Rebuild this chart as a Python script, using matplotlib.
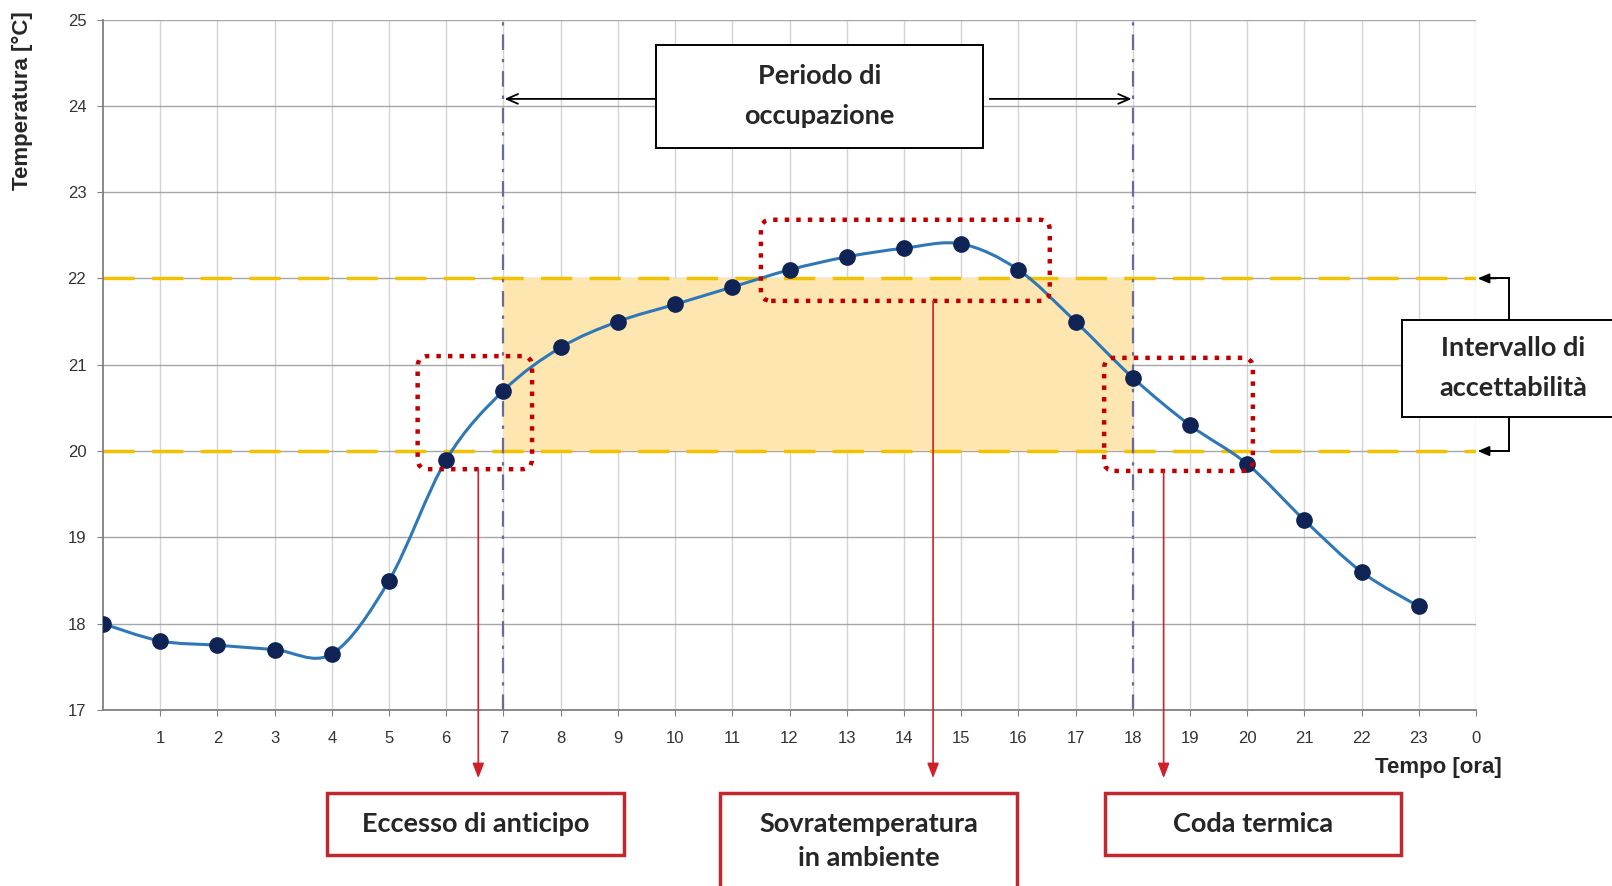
import numpy as np
import matplotlib
matplotlib.use('Agg')
import matplotlib.pyplot as plt
from matplotlib.path import Path
from matplotlib.patches import PathPatch, Rectangle, FancyBboxPatch

# Data
hours = [0, 1, 2, 3, 4, 5, 6, 7, 8, 9, 10, 11, 12, 13, 14, 15, 16, 17, 18, 19, 20, 21, 22, 23]
temps = [18.0, 17.8, 17.75, 17.7, 17.65, 18.5, 19.9, 20.7, 21.2, 21.5, 21.7, 21.9,
         22.1, 22.25, 22.35, 22.4, 22.1, 21.5, 20.85, 20.3, 19.85, 19.2, 18.6, 18.2]
comfort_low, comfort_high = 20, 22
occ_start, occ_end = 7, 18
x_ticks = list(range(1, 25))
x_tick_labels = [str(h) for h in range(1, 24)] + ['0']
y_ticks = list(range(17, 26))

W, H = 1612, 886
plt.rcParams['font.family'] = ['Liberation Sans', 'DejaVu Sans']
fig = plt.figure(figsize=(W / 100, H / 100), dpi=100)

def fx(px):
    return px / W

def fy(py):
    return 1 - py / H

left, right, top, bottom = 103, 1476, 19.5, 710
ax = fig.add_axes([fx(left), fy(bottom), fx(right - left), (bottom - top) / H])
ax.set_xlim(0, 24)
ax.set_ylim(17, 25)

# grid
for x in range(1, 25):
    ax.axvline(x, color='#d4d4d4', lw=1, zorder=0)
for y in range(18, 26):
    ax.axhline(y, color='#a6a6a6', lw=1, zorder=0)
for s in ['top', 'right']:
    ax.spines[s].set_visible(False)
for s in ['left', 'bottom']:
    ax.spines[s].set_color('#808080')
    ax.spines[s].set_linewidth(1.3)

ax.set_xticks(x_ticks)
ax.set_xticklabels(x_tick_labels)
ax.set_yticks(y_ticks)
ax.tick_params(axis='both', direction='out', length=4, color='#808080',
               labelsize=12, labelcolor='#333333')
ax.tick_params(axis='x', pad=11)
ax.tick_params(axis='y', pad=8)

# comfort band
ax.add_patch(Rectangle((occ_start, comfort_low), occ_end - occ_start, comfort_high - comfort_low,
                       facecolor='#fde6b0', edgecolor='none', zorder=1))
for yv in [comfort_low, comfort_high]:
    ax.plot([0, 24], [yv, yv], color='#f2c200', lw=2.5, dashes=(9, 5), zorder=2)

# occupancy limits
for xv in [occ_start, occ_end]:
    ax.plot([xv, xv], [17, 25], color='#6a6a9a', lw=1.6, dashes=(7, 4, 1.5, 4), zorder=2)

# smoothed line (Bezier segments through the points, like Excel smoothing)
pts = np.column_stack([hours, temps])
ext = np.vstack([pts[0], pts, pts[-1]])
verts = [tuple(pts[0])]
codes = [Path.MOVETO]
for i in range(1, len(ext) - 2):
    p0, p1, p2, p3 = ext[i - 1], ext[i], ext[i + 1], ext[i + 2]
    c1 = p1 + (p2 - p0) / 6
    c2 = p2 - (p3 - p1) / 6
    verts += [tuple(c1), tuple(c2), tuple(p2)]
    codes += [Path.CURVE4] * 3
ax.add_patch(PathPatch(Path(verts, codes), facecolor='none', edgecolor='#2f78b8', lw=2.2, zorder=3))
ax.plot(hours, temps, 'o', color='#0f2355', markersize=11, zorder=4)

# red dotted highlight boxes
red_boxes = [(5.5, 19.79, 2.0, 1.31), (11.5, 21.74, 5.05, 0.94), (17.5, 19.77, 2.6, 1.31)]
for (x0, y0, w, h) in red_boxes:
    ax.add_patch(FancyBboxPatch((x0, y0), w, h, boxstyle='round,pad=0,rounding_size=0.18',
                                mutation_aspect=0.66, facecolor='none', edgecolor='#c00000',
                                lw=3.2, linestyle=(0, (1, 1.6)), zorder=5, clip_on=False))

# red arrows down to the labels
arrow_x = [6.56, 14.51, 18.54]
arrow_from = [19.79, 21.74, 19.77]
for xa, ya in zip(arrow_x, arrow_from):
    ax.annotate('', xy=(xa, 16.21), xytext=(xa, ya), annotation_clip=False,
                arrowprops=dict(arrowstyle='-|>,head_length=0.9,head_width=0.35',
                                color='#d0202a', lw=1.2, shrinkA=0, shrinkB=0), zorder=5)

# occupancy arrows
ax.annotate('', xy=(occ_start + 0.02, 24.08), xytext=(9.7, 24.08),
            arrowprops=dict(arrowstyle='->,head_length=0.8,head_width=0.35', color='black',
                            lw=1.3, shrinkA=0, shrinkB=0))
ax.annotate('', xy=(occ_end - 0.02, 24.08), xytext=(15.5, 24.08),
            arrowprops=dict(arrowstyle='->,head_length=0.8,head_width=0.35', color='black',
                            lw=1.3, shrinkA=0, shrinkB=0))

box_font = ['Lato', 'DejaVu Sans']

def fig_box(x0, y0, x1, y1, text, edge, lw, fs, ls=1.45):
    fig.patches.append(Rectangle((fx(x0), fy(y1)), fx(x1 - x0), (y1 - y0) / H,
                                 transform=fig.transFigure, facecolor='white',
                                 edgecolor=edge, lw=lw, zorder=10, clip_on=False))
    fig.text(fx((x0 + x1) / 2), fy((y0 + y1) / 2), text, ha='center', va='center',
             fontsize=fs, family=box_font, fontweight='bold', color='#262626',
             linespacing=ls, zorder=11)

fig_box(656, 45, 983, 148, 'Periodo di\noccupazione', 'black', 1.4, 19.5, 1.8)
fig_box(327, 793, 624, 855, 'Eccesso di anticipo', '#c1272d', 2.5, 19.5)
fig_box(720, 793, 1017, 890, 'Sovratemperatura\nin ambiente', '#c1272d', 2.5, 19.5, 1.5)
fig_box(1105, 793, 1401, 855, 'Coda termica', '#c1272d', 2.5, 19.5)
fig_box(1402, 320, 1625, 417, 'Intervallo di\naccettabilità', 'black', 1.4, 19.5, 1.8)

# bracket to comfort limits
for yv, yb in [(comfort_high, 320), (comfort_low, 417)]:
    ypx = top + (25 - yv) * (bottom - top) / 8
    fig.add_artist(plt.Line2D([fx(1509), fx(1509)], [fy(yb), fy(ypx)], color='black', lw=1.4,
                              transform=fig.transFigure))
    fig.add_artist(plt.Line2D([fx(1491), fx(1509)], [fy(ypx), fy(ypx)], color='black', lw=1.4,
                              transform=fig.transFigure))
    ax.annotate('', xy=(24.03, yv), xytext=(24.35, yv), annotation_clip=False,
                arrowprops=dict(arrowstyle='-|>,head_length=0.7,head_width=0.3', color='black',
                                lw=1.2, shrinkA=0, shrinkB=0))

# axis titles
fig.text(fx(22), fy(101), 'Temperatura [°C]', rotation=90, ha='center', va='center',
         fontsize=16, fontweight='bold', color='#262626')
fig.text(fx(1502), fy(768), 'Tempo [ora]', ha='right', va='center',
         fontsize=16, fontweight='bold', color='#262626')

plt.savefig('out.png', dpi=100)
